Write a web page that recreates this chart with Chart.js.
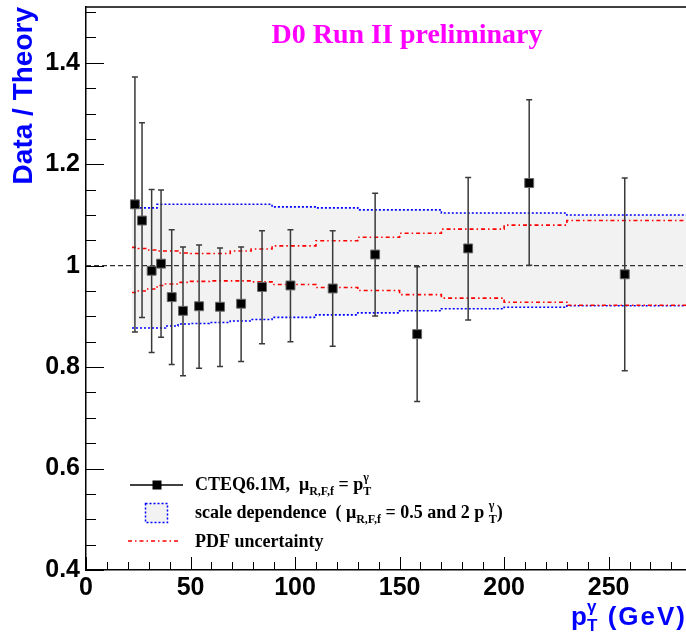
<!DOCTYPE html>
<html>
<head>
<meta charset="utf-8">
<script src="https://cdn.jsdelivr.net/npm/chart.js@4.4.0/dist/chart.umd.min.js"></script>
<style>
  html, body { margin: 0; padding: 0; background: #fff; }
</style>
</head>
<body>
<canvas id="ratioChart" width="686" height="640"></canvas>
<script>
// measured points: photon pT (GeV), Data/Theory and error bar ends
const ptPoints = [23.4, 26.8, 31.4, 35.9, 41.0, 46.4, 54.1, 64.1, 74.2, 84.2, 97.8, 118.0, 138.3, 158.4, 182.8, 212.0, 257.7];
const ratio    = [1.121, 1.089, 0.990, 1.004, 0.938, 0.911, 0.920, 0.919, 0.925, 0.958, 0.961, 0.955, 1.022, 0.865, 1.034, 1.163, 0.983];
const errHigh  = [1.372, 1.282, 1.150, 1.149, 1.071, 1.037, 1.041, 1.035, 1.037, 1.069, 1.071, 1.069, 1.143, 0.998, 1.174, 1.327, 1.173];
const errLow   = [0.869, 0.898, 0.829, 0.859, 0.805, 0.783, 0.798, 0.801, 0.811, 0.846, 0.850, 0.841, 0.901, 0.732, 0.893, 1.001, 0.793];

// theory bands, one value per pT bin
const binEdges  = [22, 25, 29, 34, 38, 44, 50, 59, 69, 79, 89, 110, 130, 150, 170, 200, 230, 300];
const scaleUp   = [1.114, 1.114, 1.114, 1.121, 1.121, 1.121, 1.121, 1.121, 1.121, 1.121, 1.116, 1.114, 1.110, 1.110, 1.104, 1.104, 1.100];
const scaleDown = [0.877, 0.877, 0.877, 0.877, 0.881, 0.885, 0.886, 0.888, 0.891, 0.894, 0.898, 0.903, 0.907, 0.911, 0.915, 0.918, 0.921];
const pdfUp     = [1.036, 1.034, 1.031, 1.029, 1.029, 1.025, 1.024, 1.024, 1.029, 1.033, 1.039, 1.049, 1.056, 1.064, 1.072, 1.080, 1.089];
const pdfDown   = [0.947, 0.950, 0.954, 0.961, 0.964, 0.967, 0.969, 0.970, 0.970, 0.968, 0.963, 0.957, 0.951, 0.943, 0.936, 0.928, 0.922];

const xTicks = [0, 50, 100, 150, 200, 250];
const yTicks = [0.4, 0.6, 0.8, 1.0, 1.2, 1.4];

const BLUE_DOTS = [2, 2];
const RED_DASHDOT = [4, 3, 1.5, 3];
const SANS = "'Liberation Sans', Arial, sans-serif";
const SERIF = "'Liberation Serif', 'Times New Roman', serif";

function stepData(vals) {
    return binEdges.map((x, i) => ({x: x, y: vals[Math.min(i, vals.length - 1)]}));
}

function bandLine(vals, color, dash, extra) {
    return Object.assign({
        data: stepData(vals),
        showLine: true,
        stepped: 'before',
        borderColor: color,
        borderDash: dash,
        borderWidth: 1.6,
        pointRadius: 0,
        fill: false
    }, extra);
}

// text with sub / superscripts, parts: [text, font, dy, advance]
function richText(ctx, x, y, parts) {
    parts.forEach(p => {
        ctx.font = p[1];
        ctx.fillText(p[0], x, y + (p[2] || 0));
        if (p[3] !== false) x += ctx.measureText(p[0]).width;
    });
}

const rootStyle = {
    id: 'rootStyle',
    beforeDatasetDraw(chart, args) {
        if (args.index !== 0) return;
        const {ctx, scales: {x, y}} = chart;
        ctx.save();
        ctx.strokeStyle = '#3a3a3a';
        ctx.lineWidth = 1.5;
        ptPoints.forEach((pt, i) => {
            const px = x.getPixelForValue(pt);
            const hi = y.getPixelForValue(errHigh[i]);
            const lo = y.getPixelForValue(errLow[i]);
            ctx.beginPath();
            ctx.moveTo(px, hi); ctx.lineTo(px, lo);
            ctx.moveTo(px - 3, hi); ctx.lineTo(px + 3, hi);
            ctx.moveTo(px - 3, lo); ctx.lineTo(px + 3, lo);
            ctx.stroke();
        });
        ctx.restore();
    },
    afterDraw(chart) {
        const {ctx, chartArea: {left, right, top, bottom}, scales: {x, y}} = chart;
        ctx.save();
        // frame top
        ctx.strokeStyle = '#000';
        ctx.lineWidth = 1.5;
        ctx.beginPath();
        ctx.moveTo(left, top); ctx.lineTo(right, top);
        ctx.stroke();
        // inward ticks
        ctx.lineWidth = 1;
        ctx.beginPath();
        for (let k = 8; k <= 30; k++) {
            const py = Math.round(y.getPixelForValue(k * 0.05)) + 0.5;
            ctx.moveTo(left, py);
            ctx.lineTo(left + (k % 4 === 0 ? 18 : 10), py);
        }
        for (let k = 0; k <= 28; k++) {
            const px = Math.round(x.getPixelForValue(k * 10)) + 0.5;
            ctx.moveTo(px, bottom);
            ctx.lineTo(px, bottom - (k % 5 === 0 ? 13 : 8));
        }
        ctx.stroke();

        // header
        ctx.fillStyle = '#ff00ff';
        ctx.textAlign = 'center';
        ctx.font = 'bold 28px ' + SERIF;
        ctx.fillText('D0 Run II preliminary', 407, 43);

        // x axis title
        ctx.fillStyle = '#0000ff';
        ctx.textAlign = 'left';
        const sansB = 'bold 26px ' + SANS, sansS = 'bold 17px ' + SANS;
        richText(ctx, 571, 625, [['p', sansB], ['\u03b3', sansS, -13, false], ['T', sansS, 6]]);
        ctx.textAlign = 'right';
        ctx.font = sansB;
        ctx.letterSpacing = '2px';
        ctx.fillText('(GeV)', 687, 625);
        ctx.letterSpacing = '0px';
        ctx.textAlign = 'left';

        // legend
        ctx.fillStyle = '#000';
        const serB = 'bold 18px ' + SERIF, serS = 'bold 12px ' + SERIF;
        ctx.strokeStyle = '#000';
        ctx.lineWidth = 1.5;
        ctx.beginPath();
        ctx.moveTo(130, 485); ctx.lineTo(183, 485);
        ctx.stroke();
        ctx.fillRect(152.5, 480.5, 9, 9);
        richText(ctx, 195, 490, [['CTEQ6.1M,  \u03bc', serB], ['R,F,f', serS, 5], [' = p', serB],
            ['\u03b3', serS, -9, false], ['T', serS, 5]]);

        ctx.fillStyle = '#f2f2f2';
        ctx.fillRect(145, 503, 23, 20);
        ctx.strokeStyle = '#0000ff';
        ctx.setLineDash(BLUE_DOTS);
        ctx.strokeRect(145.5, 503.5, 22, 19);
        ctx.fillStyle = '#000';
        richText(ctx, 195, 518, [['scale dependence  ( \u03bc', serB], ['R,F,f', serS, 5], [' = 0.5 and 2 p ', serB],
            ['\u03b3', serS, -9, false], ['T', serS, 5], [')', serB]]);

        ctx.strokeStyle = '#ff0000';
        ctx.lineWidth = 1.6;
        ctx.setLineDash(RED_DASHDOT);
        ctx.beginPath();
        ctx.moveTo(128, 541); ctx.lineTo(180, 541);
        ctx.stroke();
        ctx.setLineDash([]);
        richText(ctx, 195, 547, [['PDF uncertainty', serB]]);
        ctx.restore();
    }
};

Chart.defaults.font.family = SANS;
Chart.defaults.color = '#000';

const ctx = document.getElementById('ratioChart');
new Chart(ctx, {
    type: 'scatter',
    data: {
        datasets: [{
            label: 'CTEQ6.1M',
            data: ptPoints.map((pt, i) => ({x: pt, y: ratio[i]})),
            pointStyle: 'rect',
            pointRadius: 6.3,
            backgroundColor: '#000',
            borderColor: '#666',
            borderWidth: 1,
            order: 0
        },
        bandLine(scaleUp, '#0000ff', BLUE_DOTS, {fill: '+1', backgroundColor: '#f2f2f2', order: 3}),
        bandLine(scaleDown, '#0000ff', BLUE_DOTS, {order: 3}),
        bandLine(pdfUp, '#ff0000', RED_DASHDOT, {order: 2}),
        bandLine(pdfDown, '#ff0000', RED_DASHDOT, {order: 2}),
        {
            data: [{x: 0, y: 1}, {x: 300, y: 1}],
            showLine: true,
            borderColor: '#333',
            borderDash: [5, 3],
            borderWidth: 1.2,
            pointRadius: 0,
            order: 1
        }]
    },
    options: {
        responsive: false,
        animation: false,
        layout: {autoPadding: false, padding: {top: 7, left: 0, right: 0, bottom: 0}},
        plugins: {
            legend: {display: false},
            tooltip: {enabled: false},
            filler: {drawTime: 'beforeDatasetsDraw'}
        },
        scales: {
            x: {
                type: 'linear',
                min: 0,
                max: 287,
                afterFit: s => { s.height = 70; s.paddingLeft = 0; s.paddingRight = 0; },
                afterBuildTicks: s => { s.ticks = xTicks.map(v => ({value: v})); },
                grid: {display: false, drawTicks: false},
                border: {display: true, color: '#000', width: 1.5},
                ticks: {
                    autoSkip: false,
                    maxRotation: 0,
                    padding: 3,
                    color: '#000',
                    font: {size: 25, weight: 'bold'}
                }
            },
            y: {
                min: 0.4,
                max: 1.51,
                afterFit: s => { s.width = 86; s.paddingTop = 0; s.paddingBottom = 0; },
                afterBuildTicks: s => { s.ticks = yTicks.map(v => ({value: v})); },
                grid: {display: false, drawTicks: false},
                border: {display: true, color: '#000', width: 1.5},
                ticks: {
                    autoSkip: false,
                    padding: 6,
                    color: '#000',
                    font: {size: 25, weight: 'bold'},
                    callback: v => String(Math.round(v * 10) / 10)
                },
                title: {
                    display: true,
                    text: 'Data / Theory',
                    align: 'end',
                    color: '#0000ff',
                    padding: {top: 7, bottom: 0},
                    font: {size: 28, weight: 'bold'}
                }
            }
        }
    },
    plugins: [rootStyle]
});
</script>
</body>
</html>
